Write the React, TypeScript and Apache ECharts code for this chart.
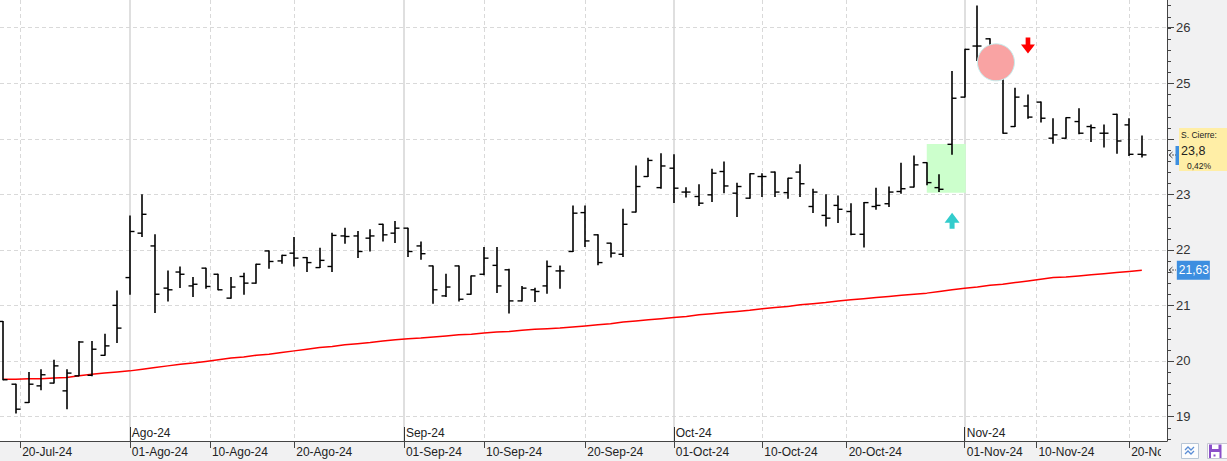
import React, { useEffect, useRef } from "react";
import * as echarts from "echarts";

// Trading days (x index = position in this list)
const tradingDays = [
  "2024-07-18","2024-07-19","2024-07-22","2024-07-23","2024-07-24","2024-07-25","2024-07-26","2024-07-29","2024-07-30","2024-07-31",
  "2024-08-01","2024-08-02","2024-08-05","2024-08-06","2024-08-07","2024-08-08","2024-08-09","2024-08-12","2024-08-13","2024-08-14",
  "2024-08-15","2024-08-16","2024-08-19","2024-08-20","2024-08-21","2024-08-22","2024-08-23","2024-08-26","2024-08-27","2024-08-28",
  "2024-08-29","2024-08-30","2024-09-02","2024-09-03","2024-09-04","2024-09-05","2024-09-06","2024-09-09","2024-09-10","2024-09-11",
  "2024-09-12","2024-09-13","2024-09-16","2024-09-17","2024-09-18","2024-09-19","2024-09-20","2024-09-23","2024-09-24","2024-09-25",
  "2024-09-26","2024-09-27","2024-09-30","2024-10-01","2024-10-02","2024-10-03","2024-10-04","2024-10-07","2024-10-08","2024-10-09",
  "2024-10-10","2024-10-11","2024-10-14","2024-10-15","2024-10-16","2024-10-17","2024-10-18","2024-10-21","2024-10-22","2024-10-23",
  "2024-10-24","2024-10-25","2024-10-28","2024-10-29","2024-10-30","2024-10-31","2024-11-01","2024-11-04","2024-11-05","2024-11-06",
  "2024-11-07","2024-11-08","2024-11-11","2024-11-12","2024-11-13","2024-11-14","2024-11-15","2024-11-18","2024-11-19","2024-11-20",
  "2024-11-21",
];

const opens = [
  20.71,19.58,19.25,19.55,19.60,19.46,19.73,19.74,20.10,21.00,
  21.50,22.30,22.07,21.31,21.60,21.35,21.67,21.56,21.13,21.52,
  21.40,21.98,21.80,21.94,21.86,21.68,21.70,22.25,22.25,22.21,
  22.46,22.30,22.39,22.07,21.71,21.17,21.71,21.20,21.56,21.72,
  21.64,21.08,21.28,21.35,21.62,21.97,22.67,22.27,22.12,21.92,
  22.68,23.32,23.12,23.47,23.04,22.96,22.99,23.41,23.02,22.93,
  23.32,23.40,23.03,23.40,22.78,22.62,22.80,22.69,22.28,22.78,
  22.83,23.05,23.13,23.57,23.12,23.90,24.75,25.67,25.80,25.13,
  24.22,24.59,24.66,24.01,24.01,24.31,24.22,24.10,24.44,24.25,
  23.72,
];
const highs = [
  20.71,19.58,19.79,19.84,20.01,19.84,20.35,20.35,20.48,21.26,
  22.61,22.99,22.27,21.62,21.69,21.50,21.67,21.56,21.50,21.58,
  21.74,21.98,21.90,22.22,21.86,22.03,22.30,22.39,22.33,22.36,
  22.46,22.51,22.39,22.14,21.71,21.56,21.71,21.53,22.04,22.04,
  21.65,21.34,21.31,21.80,21.71,22.79,22.79,22.27,22.12,22.73,
  23.51,23.65,23.73,23.71,23.12,23.17,23.45,23.58,23.20,23.37,
  23.37,23.40,23.29,23.53,23.09,22.99,22.97,22.83,22.85,23.11,
  23.13,23.56,23.69,23.57,23.35,25.21,25.61,26.39,25.80,25.13,
  24.91,24.79,24.66,24.36,24.38,24.54,24.25,24.25,24.44,24.36,
  24.05,
];
const lows = [
  19.66,19.06,19.25,19.48,19.60,19.14,19.73,19.73,20.10,20.33,
  21.20,22.24,20.87,21.08,21.32,21.16,21.31,21.28,21.13,21.20,
  21.40,21.67,21.76,21.71,21.61,21.68,21.61,22.12,21.86,21.98,
  22.16,22.13,21.88,21.83,21.04,21.16,21.08,21.20,21.55,21.23,
  20.86,21.08,21.07,21.22,21.31,21.97,22.06,21.73,21.87,21.88,
  22.68,23.32,23.11,22.85,22.95,22.80,22.87,23.03,22.60,22.93,
  22.96,22.96,22.93,22.96,22.67,22.43,22.49,22.27,22.05,22.73,
  22.78,23.02,23.13,23.17,23.05,23.72,24.75,25.41,25.45,24.10,
  24.22,24.37,24.30,23.92,24.01,24.09,23.95,23.85,23.74,23.70,
  23.67,
];
const closes = [
  19.66,19.13,19.58,19.75,19.91,19.78,20.34,20.21,20.27,20.59,
  22.33,22.64,21.20,21.28,21.56,21.38,21.34,21.28,21.33,21.40,
  21.74,21.79,21.90,21.85,21.77,21.81,22.26,22.24,21.97,22.25,
  22.27,22.39,21.97,21.93,21.28,21.33,21.11,21.53,21.85,21.35,
  21.08,21.31,21.25,21.70,21.62,22.66,22.16,21.77,21.94,22.46,
  23.14,23.61,23.51,23.11,23.04,22.84,23.38,23.15,23.14,23.37,
  23.32,23.04,23.29,23.19,23.04,22.57,22.73,22.28,22.85,22.80,
  23.04,23.10,23.53,23.21,23.09,24.73,25.61,25.67,25.51,24.10,
  24.75,24.39,24.37,24.07,24.38,24.10,24.20,24.10,23.96,23.72,
  23.71,
];
// Moving average (red line)
const movingAvg = [
  19.67,19.67,19.68,19.68,19.69,19.70,19.73,19.76,19.78,19.80,
  19.82,19.85,19.88,19.91,19.94,19.96,19.99,20.02,20.05,20.07,
  20.10,20.12,20.15,20.18,20.21,20.24,20.26,20.29,20.31,20.33,
  20.36,20.38,20.40,20.41,20.43,20.45,20.47,20.48,20.50,20.52,
  20.53,20.55,20.57,20.58,20.59,20.61,20.63,20.65,20.67,20.70,
  20.72,20.74,20.76,20.78,20.80,20.83,20.85,20.87,20.89,20.91,
  20.94,20.96,20.98,21.01,21.03,21.05,21.08,21.10,21.12,21.14,
  21.16,21.18,21.20,21.22,21.25,21.28,21.31,21.33,21.36,21.38,
  21.41,21.44,21.47,21.50,21.51,21.53,21.55,21.57,21.59,21.61,
  21.63,
];

// X tick labels (positions in trading-day index units; weekends fall between bars)
const dayTickPos = [1.333, 16.333, 23, 38, 46, 60, 66.667, 81.667, 89];
const dayTickLabels = ["20-Jul-24","10-Ago-24","20-Ago-24","10-Sep-24","20-Sep-24","10-Oct-24","20-Oct-24","10-Nov-24","20-Nov-24"];
const monthTickPos = [10, 31.667, 53, 76];
const monthDayLabels = ["01-Ago-24","01-Sep-24","01-Oct-24","01-Nov-24"];
const monthLabels = ["Ago-24","Sep-24","Oct-24","Nov-24"];
const yTickValues = [19, 20, 21, 22, 23, 24, 25, 26];
// 24 is hidden behind the "S. Cierre" box in the reference
const yLabelValues = [19, 20, 21, 22, 23, 25, 26];

// annotations
const buyMark = { idx: 75, price: 22.525 };
const sellMark = { idx: 81, price: 25.68 };
const circleMark = { idx: 78.47, price: 25.377 };
const zoneRect = { x0: 73, x1: 76.08, top: 23.906, bottom: 23.029 };
const closeBoxTitle = "S. Cierre:";
const closeBoxValue = "23,8";
const closeBoxPct = "0,42%";

const X_MIN = -0.261;
const X_MAX = 91.99;
const Y_MIN = 18.557;
const Y_MAX = 26.499;
const FONT = "'Liberation Sans', Arial, sans-serif";

function lookup(pos: number[], labels: string[], v: number) {
  let best = 0;
  for (let i = 0; i < pos.length; i++) if (Math.abs(pos[i] - v) < Math.abs(pos[best] - v)) best = i;
  return labels[best];
}

export default function App() {
  const ref = useRef<HTMLDivElement>(null);
  useEffect(() => {
    if (!ref.current) return;
    const chart = echarts.init(ref.current, null, { renderer: "svg" });
    const minorTicks: number[] = [];
    for (let k = 0; k < 40; k++) minorTicks.push(+(18.6 + 0.2 * k).toFixed(1));
    const ohlc = opens.map((o, i) => [i, o, highs[i], lows[i], closes[i]]);
    const maData = movingAvg.map((v, i) => [i, v]);

    const option: any = {
      animation: false,
      backgroundColor: "#f1f1f2",
      grid: { left: 0, right: 60, top: 0, bottom: 20, show: true, backgroundColor: "#ffffff", borderWidth: 0 },
      xAxis: [
        {
          type: "value", min: X_MIN, max: X_MAX, position: "bottom",
          axisLine: { show: true, onZero: false, lineStyle: { color: "#444", width: 1 } },
          axisTick: { show: true, length: 7, customValues: dayTickPos, lineStyle: { color: "#444" } },
          axisLabel: {
            customValues: dayTickPos, formatter: (v: number) => lookup(dayTickPos, dayTickLabels, v),
            align: "left", padding: [0, 0, 0, 2], margin: 5, color: "#222", fontSize: 12, fontFamily: FONT,
          },
          splitLine: { show: true, lineStyle: { color: "#d9d9d9", type: [4, 3], width: 1 } },
        },
        {
          type: "value", min: X_MIN, max: X_MAX, position: "bottom",
          axisLine: { show: false, onZero: false },
          axisTick: { show: true, length: 7, customValues: monthTickPos, lineStyle: { color: "#444" } },
          axisLabel: {
            customValues: monthTickPos, formatter: (v: number) => lookup(monthTickPos, monthDayLabels, v),
            align: "left", padding: [0, 0, 0, 2], margin: 5, color: "#222", fontSize: 12, fontFamily: FONT,
          },
          splitLine: { show: true, lineStyle: { color: "#d4d4d4", type: "solid", width: 1.5 } },
        },
        {
          type: "value", min: X_MIN, max: X_MAX, position: "bottom",
          axisLine: { show: false, onZero: false },
          axisTick: { show: true, inside: true, length: 14, customValues: monthTickPos, lineStyle: { color: "#333" } },
          axisLabel: {
            inside: true, customValues: monthTickPos, formatter: (v: number) => lookup(monthTickPos, monthLabels, v),
            align: "left", padding: [0, 0, 0, 2], margin: 2, color: "#222", fontSize: 12, fontFamily: FONT,
          },
          splitLine: { show: false },
        },
      ],
      yAxis: [
        {
          type: "value", position: "right", min: Y_MIN, max: Y_MAX,
          axisLine: { show: true, onZero: false, lineStyle: { color: "#444" } },
          axisTick: { show: true, length: 7, customValues: yTickValues, lineStyle: { color: "#444" } },
          axisLabel: { customValues: yLabelValues, margin: 9, color: "#333", fontSize: 13, fontFamily: FONT },
          splitLine: { show: true, lineStyle: { color: "#d9d9d9", type: [4, 3], width: 1 } },
        },
      ],
      series: [
        {
          type: "line", name: "MA", data: maData, xAxisIndex: 0, yAxisIndex: 0, z: 2,
          showSymbol: false, symbol: "none",
          lineStyle: { color: "#ff0000", width: 1.5 },
          endLabel: {
            show: true, distance: 35,
            formatter: (p: any) => Number(p.value[1]).toFixed(2).replace(".", ","),
            backgroundColor: "#3d8ee0", color: "#fff", fontSize: 12, fontFamily: FONT,
            padding: [4, 1, 3, 2],
          },
          markArea: {
            silent: true,
            itemStyle: { color: "#ccffcc", opacity: 1 },
            label: { show: false },
            data: [[{ coord: [zoneRect.x0, zoneRect.top] }, { coord: [zoneRect.x1, zoneRect.bottom] }]],
          },
          markPoint: {
            silent: true,
            label: { show: false },
            data: [
              {
                coord: [circleMark.idx, circleMark.price], symbol: "circle", symbolSize: 37,
                itemStyle: { color: "#f9a3a3", borderColor: "#c4eeee", borderWidth: 1 },
              },
              {
                coord: [buyMark.idx, buyMark.price],
                symbol: "path://M7.5 0 L15 10 L10 10 L10 16 L5 16 L5 10 L0 10 Z", symbolSize: [15, 16],
                itemStyle: { color: "#33cccc" },
              },
              {
                coord: [sellMark.idx, sellMark.price],
                symbol: "path://M5 0 L10 0 L10 7 L15 7 L7.5 16 L0 7 L5 7 Z", symbolSize: [14, 16],
                itemStyle: { color: "#ff0000" },
              },
            ],
          },
        },
        {
          type: "custom", name: "OHLC", data: ohlc, xAxisIndex: 0, yAxisIndex: 0, z: 3,
          encode: { x: 0, y: [1, 2, 3, 4] },
          renderItem: (params: any, api: any) => {
            const i = api.value(0);
            const o = api.coord([i, api.value(1)]);
            const h = api.coord([i, api.value(2)]);
            const l = api.coord([i, api.value(3)]);
            const c = api.coord([i, api.value(4)]);
            const x = Math.round(o[0]);
            const st = { stroke: "#000", lineWidth: 1.6 };
            const ts = { stroke: "#000", lineWidth: 1.4 };
            return {
              type: "group",
              children: [
                { type: "line", shape: { x1: x, y1: h[1] - 0.5, x2: x, y2: l[1] + 0.5 }, style: st },
                { type: "line", shape: { x1: x - 4.5, y1: o[1], x2: x, y2: o[1] }, style: ts },
                { type: "line", shape: { x1: x, y1: c[1], x2: x + 4.5, y2: c[1] }, style: ts },
              ],
            };
          },
        },
        {
          // minor ticks of the price axis, every 0.2
          type: "custom", name: "minorTicks", silent: true, clip: false, z: 4,
          data: minorTicks.map((v) => [X_MAX, v]), xAxisIndex: 0, yAxisIndex: 0,
          encode: { x: 0, y: 1 },
          renderItem: (params: any, api: any) => {
            const p = api.coord([api.value(0), api.value(1)]);
            const y = Math.round(p[1]) + 0.5;
            return {
              type: "line",
              shape: { x1: p[0], y1: y, x2: p[0] + 4, y2: y },
              style: { stroke: "#444", lineWidth: 1 },
            };
          },
        },
      ],
      graphic: [
        // last close marker and arrows near the axis
        { type: "rect", z: 100, shape: { x: 1175.5, y: 146, width: 4, height: 19 }, style: { fill: "#3d8ee0" } },
        { type: "polyline", z: 101, shape: { points: [[1172.5, 152], [1169, 155], [1172.5, 158]] }, style: { stroke: "#555", lineWidth: 1, fill: null } },
        { type: "line", z: 101, shape: { x1: 1169, y1: 155, x2: 1176, y2: 155 }, style: { stroke: "#555", lineWidth: 1, lineDash: [2, 1] } },
        { type: "polyline", z: 101, shape: { points: [[1172.5, 267], [1169, 270], [1172.5, 273]] }, style: { stroke: "#555", lineWidth: 1, fill: null } },
        { type: "line", z: 101, shape: { x1: 1169, y1: 270, x2: 1176, y2: 270 }, style: { stroke: "#555", lineWidth: 1, lineDash: [2, 1] } },
        // S. Cierre box
        { type: "rect", z: 100, shape: { x: 1179, y: 128, width: 48, height: 43 }, style: { fill: "#ffeea6" } },
        { type: "text", z: 101, x: 1181, y: 135, style: { text: closeBoxTitle, fill: "#222", font: `8.5px ${FONT}`, verticalAlign: "middle" } },
        { type: "text", z: 101, x: 1181, y: 151, style: { text: closeBoxValue, fill: "#222", font: `12.5px ${FONT}`, verticalAlign: "middle" } },
        { type: "text", z: 101, x: 1187, y: 165.5, style: { text: closeBoxPct, fill: "#222", font: `8.5px ${FONT}`, verticalAlign: "middle" } },
        // bottom-right corner cover and icons
        { type: "rect", z: 100, shape: { x: 1161, y: 442, width: 66, height: 19 }, style: { fill: "#f1f1f2" } },
        { type: "rect", z: 101, shape: { x: 1181.5, y: 443.5, width: 17, height: 15 }, style: { fill: "#fdfdfd", stroke: "#b9c6d6", lineWidth: 1 } },
        { type: "polyline", z: 102, shape: { points: [[1185, 450], [1188, 447], [1191, 450], [1194, 447]] }, style: { stroke: "#5b8ed6", lineWidth: 1.3, fill: null } },
        { type: "polyline", z: 102, shape: { points: [[1185, 454], [1188, 451], [1191, 454], [1194, 451]] }, style: { stroke: "#5b8ed6", lineWidth: 1.3, fill: null } },
        { type: "rect", z: 101, shape: { x: 1207.5, y: 443.5, width: 20, height: 15 }, style: { fill: "#fdfdfd", stroke: "#c6c6d2", lineWidth: 1 } },
        { type: "rect", z: 102, shape: { x: 1209, y: 444.5, width: 12.5, height: 13.5 }, style: { fill: "#8b4fc9" } },
        { type: "rect", z: 103, shape: { x: 1212, y: 444.5, width: 6.5, height: 4.5 }, style: { fill: "#ffffff" } },
        { type: "rect", z: 103, shape: { x: 1211, y: 452, width: 8.5, height: 6 }, style: { fill: "#ffffff" } },
        { type: "rect", z: 104, shape: { x: 1213.5, y: 454.5, width: 2, height: 2 }, style: { fill: "#8b4fc9" } },
      ],
    };
    chart.setOption(option);
    return () => chart.dispose();
  }, []);
  return (
    <div
      ref={ref}
      style={{ position: "fixed", left: 0, top: 0, width: 1227, height: 461 }}
    />
  );
}
